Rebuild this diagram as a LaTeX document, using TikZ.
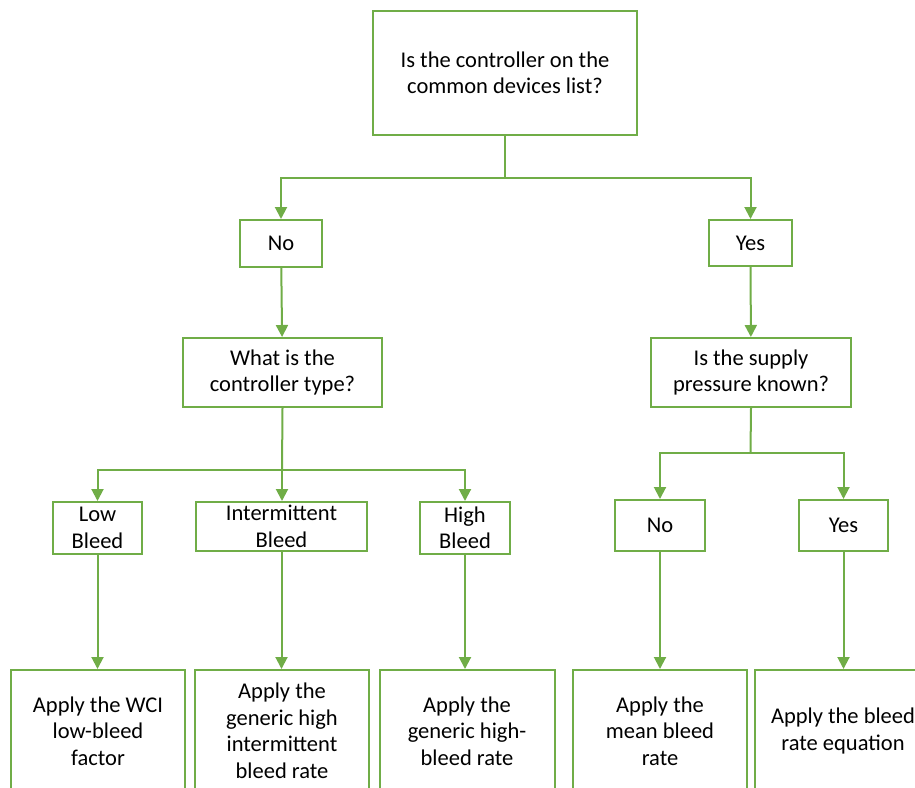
\documentclass[tikz,border=0pt]{standalone}
\usepackage{fontspec}
\setmainfont{Carlito}
\usetikzlibrary{arrows.meta}
\definecolor{flowgreen}{RGB}{112,173,71}
\tikzset{
  qbox/.style={draw=flowgreen, line width=2pt, align=center, inner sep=0pt,
    font=\fontsize{22.5}{26.5}\selectfont},
  link/.style={draw=flowgreen, line width=2pt},
  flow/.style={link, -{Triangle[width=12pt,length=12pt]}},
}
\begin{document}
\begin{tikzpicture}[x=1pt, y=-1pt]
  \useasboundingbox (0,0) rectangle (915,787);
  \clip (0,0) rectangle (915,787);
  \def\toprow{731};
  %
  \node[qbox, minimum width=264pt, minimum height=124pt] (devlist) at (505,73)
    {Is the controller on the\\common devices list?};           % top
  \node[qbox, minimum width=82pt, minimum height=47pt] (no) at (281,243.5) {No};
  \node[qbox, minimum width=83pt, minimum height=46pt] (yes) at (750.5,243) {Yes};
  %%
  \node[qbox, minimum width=199pt, minimum height=69pt] (ctype) at (282.5,372.5)
    {What is the\\controller type?};                             % left question
  \node[qbox, minimum width=200pt, minimum height=69pt] (press) at (751,372.5)
    {Is the supply\\pressure known?};                            % right question
  %%
  \node[qbox, minimum width=89pt, minimum height=52pt] (low) at (97.5,528) {Low\\Bleed};
  \node[qbox, minimum width=171pt, minimum height=49pt] (inter) at (281.5,526.5)
    {Intermittent\\Bleed};
  \node[qbox, minimum width=90pt, minimum height=52pt] (high) at (465,528) {High\\Bleed};
  \node[qbox, minimum width=90pt, minimum height=51pt] (pno) at (660,525.5) {No};
  \node[qbox, minimum width=89pt, minimum height=51pt] (pyes) at (843.5,525.5) {Yes};
  %%
  \node[qbox, minimum width=174pt, minimum height=122pt] (wci) at (98,\toprow)
    {Apply the WCI\\low-bleed\\factor};                          % bottom row
  \node[qbox, minimum width=174pt, minimum height=122pt] (genint) at (282,\toprow)
    {Apply the\\generic high\\intermittent\\bleed rate};
  \node[qbox, minimum width=175pt, minimum height=122pt] (genhigh) at (467,\toprow)
    {Apply the\\generic high-\\bleed rate};
  \node[qbox, minimum width=174pt, minimum height=122pt] (mean) at (660,\toprow)
    {Apply the\\mean bleed\\rate};
  \node[qbox, minimum width=176pt, minimum height=122pt] (eqn) at (843,\toprow)
    {Apply the bleed\\rate equation};
  %
  \coordinate (split1) at (505,178);
  \coordinate (split2) at (282,470);
  \coordinate (split3) at (750.5,453);
  \draw[link] (devlist.south) -- (split1);
  \draw[flow] (split1) -| (no);
  \draw[flow] (split1) -| (yes);
  \draw[flow] (no) -- (ctype);
  \draw[flow] (yes) -- (press);
  %%
  \draw[link] (ctype.south) -- (split2);
  \draw[flow] (split2) -| (low);
  \draw[flow] (split2) -- (split2 |- inter.north);
  \draw[flow] (split2) -| (high);
  \draw[link] (press.south) -- (split3);
  \draw[flow] (split3) -| (pno);
  \draw[flow] (split3) -| (pyes);
  %%
  \draw[flow] (low.south) -- (low.south |- wci.north);
  \draw[flow] (inter.south) -- (inter.south |- genint.north);
  \draw[flow] (high.south) -- (high.south |- genhigh.north);
  \draw[flow] (pno.south) -- (pno.south |- mean.north);
  \draw[flow] (pyes.south) -- (pyes.south |- eqn.north);
  %
\end{tikzpicture}
\end{document}
